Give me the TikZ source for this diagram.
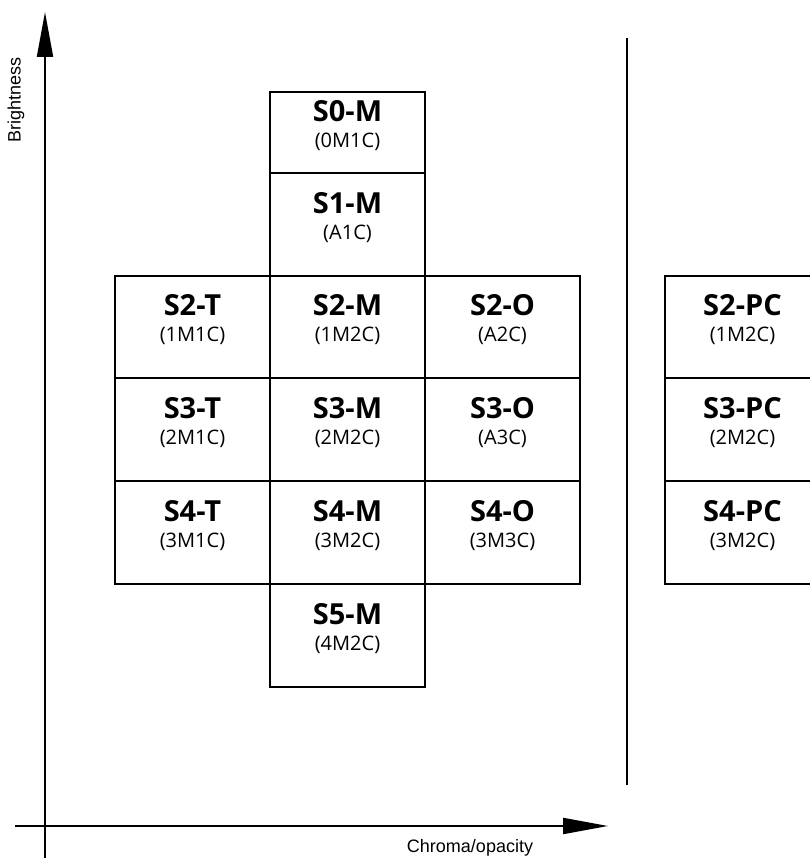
\documentclass[tikz,border=0pt]{standalone}
\usepackage{fontspec}
\setmainfont{Open Sans}
\newfontfamily\arialfont{Liberation Sans}
\usetikzlibrary{arrows.meta}
\newcommand{\cellbox}[6]{%
  \node[cell, minimum height=#4pt] (#1) at (#2,#3) {};
  \node[celltext] (#1-text) at ([yshift=7pt]#1.center)
    {{\fontsize{29}{26}\selectfont\bfseries #5}\\{#6}};}
\begin{document}
\begin{tikzpicture}[x=1pt,y=1pt,
  cell/.style={draw, line width=2pt, minimum width=155pt, inner sep=0pt},
  celltext/.style={anchor=center, inner sep=0pt, align=center,
    font=\fontsize{20}{26}\selectfont},
  axis/.style={line width=2pt, -{Triangle[length=45pt,width=16pt]}},
  axislabel/.style={font=\arialfont\fontsize{18}{20}\selectfont},
  divider/.style={line width=2pt}]
\useasboundingbox (0,0) rectangle (809,866);
% grid cells (centre x, centre y, height)
\cellbox{s0m}{347.5}{733.5}{81}{S0-M}{(0M1C)}
\cellbox{s1m}{347.5}{641.5}{103}{S1-M}{(A1C)}
\cellbox{s2t}{192.5}{539}{102}{S2-T}{(1M1C)}
\cellbox{s2m}{347.5}{539}{102}{S2-M}{(1M2C)}
\cellbox{s2o}{502.5}{539}{102}{S2-O}{(A2C)}
\cellbox{s3t}{192.5}{436.5}{103}{S3-T}{(2M1C)}
\cellbox{s3m}{347.5}{436.5}{103}{S3-M}{(2M2C)}
\cellbox{s3o}{502.5}{436.5}{103}{S3-O}{(A3C)}
\cellbox{s4t}{192.5}{333.5}{103}{S4-T}{(3M1C)}
\cellbox{s4m}{347.5}{333.5}{103}{S4-M}{(3M2C)}
\cellbox{s4o}{502.5}{333.5}{103}{S4-O}{(3M3C)}
\cellbox{s5m}{347.5}{230.5}{103}{S5-M}{(4M2C)}
\cellbox{s2pc}{742.5}{539}{102}{S2-PC}{(1M2C)}
\cellbox{s3pc}{742.5}{436.5}{103}{S3-PC}{(2M2C)}
\cellbox{s4pc}{742.5}{333.5}{103}{S4-PC}{(3M2C)}
% axes
\coordinate (vb) at (45,8);
\coordinate (vt) at (45,854);
\coordinate (hl) at (15,40);
\coordinate (hr) at (608,40);
\draw[axis] (vb) -- (vt);
\draw[axis] (hl) -- (hr);
\node[axislabel, rotate=90] (blabel) at (16,766) {Brightness};
\node[axislabel] (clabel) at (470,18) {Chroma/opacity};
% divider
\coordinate (dt) at (627,828);
\coordinate (db) at (627,81);
\draw[divider] (dt) -- (db);
\end{tikzpicture}
\end{document}
